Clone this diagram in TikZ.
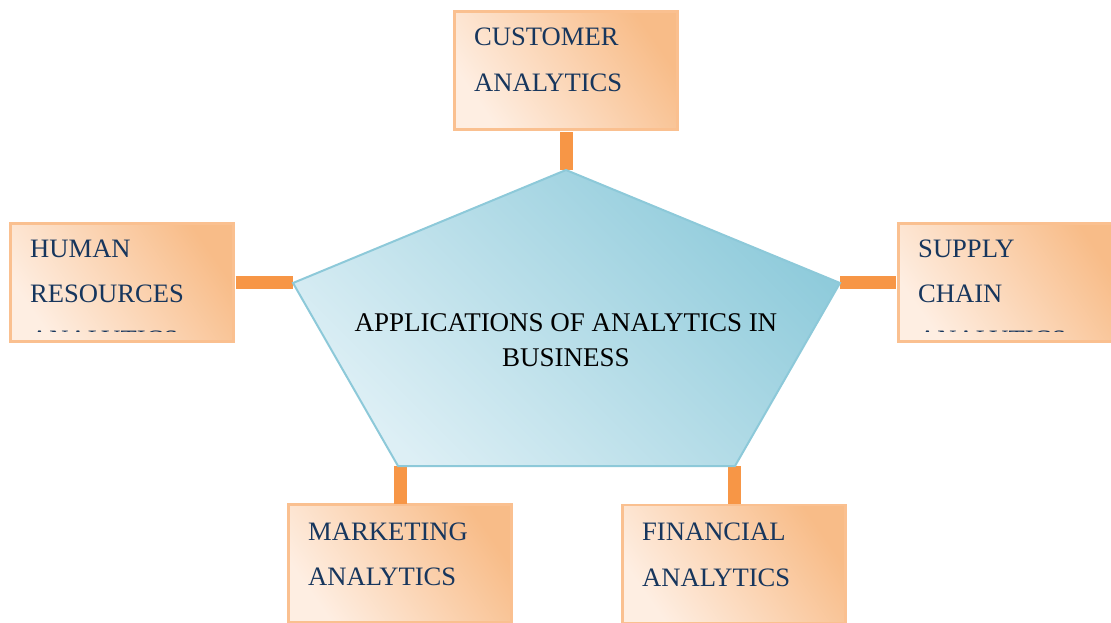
\documentclass[tikz,border=0pt]{standalone}
\usepackage{fontspec}
\setmainfont{Liberation Serif}
\definecolor{peachdark}{HTML}{F8BC88}
\definecolor{peachlight}{HTML}{FEEEE2}
\definecolor{boxedge}{HTML}{FAC090}
\definecolor{navy}{HTML}{17365D}
\definecolor{connorange}{HTML}{F79646}
\definecolor{tealdark}{HTML}{8FCBDB}
\definecolor{teallight}{HTML}{DDEFF5}
\definecolor{tealedge}{HTML}{8DC9D9}
\begin{document}
\begin{tikzpicture}[x=1pt,y=-1pt,
  box/.style={draw=boxedge, line width=2.5pt, top color=peachdark,
    bottom color=peachlight, shading angle=-55, minimum width=223pt,
    minimum height=118pt, anchor=north west, inner sep=0pt, outer sep=0pt},
  boxtext/.style={anchor=north west, inner sep=0pt, align=left, text=navy,
    font=\fontsize{26.6}{45.5}\selectfont},
  conn/.style={draw=connorange, line width=13pt},
  hub/.style={draw=tealedge, line width=2pt, top color=tealdark,
    bottom color=teallight, shading angle=-45},
  hubtext/.style={anchor=north, inner sep=0pt, align=center, text=black,
    font=\fontsize{27}{35}\selectfont},
]
\useasboundingbox (0,0) rectangle (1111,623);

% corners of the central pentagon
\coordinate (ptop)   at (566,170);
\coordinate (pright) at (840,283);
\coordinate (pbr)    at (735,466);
\coordinate (pbl)    at (398,466);
\coordinate (pleft)  at (293,283);

% surrounding boxes
\node[box] (cust) at (454.5,11.5) {};
\node[box] (hr)   at (10.5,223.5) {};
\node[box] (sc)   at (898.5,223.5) {};
\node[box] (mk)   at (288.5,504.5) {};
\node[box] (fin)  at (622.5,505) {};

% box labels, cut off near the lower edge of each box
\begin{scope}
  \clip (cust.north west) rectangle ([yshift=10pt]cust.south east);
  \node[boxtext] (custtext) at ([shift={(19.5pt,-16.5pt)}]cust.north west) {CUSTOMER\\ANALYTICS};
\end{scope}
\begin{scope}
  \clip (hr.north west) rectangle ([yshift=10pt]hr.south east);
  \node[boxtext] (hrtext) at ([shift={(19.5pt,-16pt)}]hr.north west) {HUMAN\\RESOURCES\\ANALYTICS};
\end{scope}
\begin{scope}
  \clip (sc.north west) rectangle ([yshift=10pt]sc.south east);
  \node[boxtext] (sctext) at ([shift={(19.5pt,-16pt)}]sc.north west) {SUPPLY\\CHAIN\\ANALYTICS};
\end{scope}
\begin{scope}
  \clip (mk.north west) rectangle ([yshift=10pt]mk.south east);
  \node[boxtext] (mktext) at ([shift={(19.5pt,-18pt)}]mk.north west) {MARKETING\\ANALYTICS};
\end{scope}
\begin{scope}
  \clip (fin.north west) rectangle ([yshift=10pt]fin.south east);
  \node[boxtext] (fintext) at ([shift={(19.5pt,-18pt)}]fin.north west) {FINANCIAL\\ANALYTICS};
\end{scope}

% connectors between the boxes and the pentagon
\draw[conn] ([yshift=-3pt]cust.south) -- (cust.south |- ptop);
\draw[conn] ([xshift=2pt]hr.east) -- (hr.east -| pleft);
\draw[conn] (sc.west -| pright) -- ([xshift=-3pt]sc.west);
\draw[conn] (mk.north |- pbl) -- ([yshift=1pt]mk.north);
\draw[conn] (fin.north |- pbr) -- ([yshift=1pt]fin.north);

% central pentagon and its title
\path[hub] (ptop) -- (pright) -- (pbr) -- (pbl) -- (pleft) -- cycle;
\node[hubtext] (title) at (566,313) {APPLICATIONS OF ANALYTICS IN\\BUSINESS};
\end{tikzpicture}
\end{document}
